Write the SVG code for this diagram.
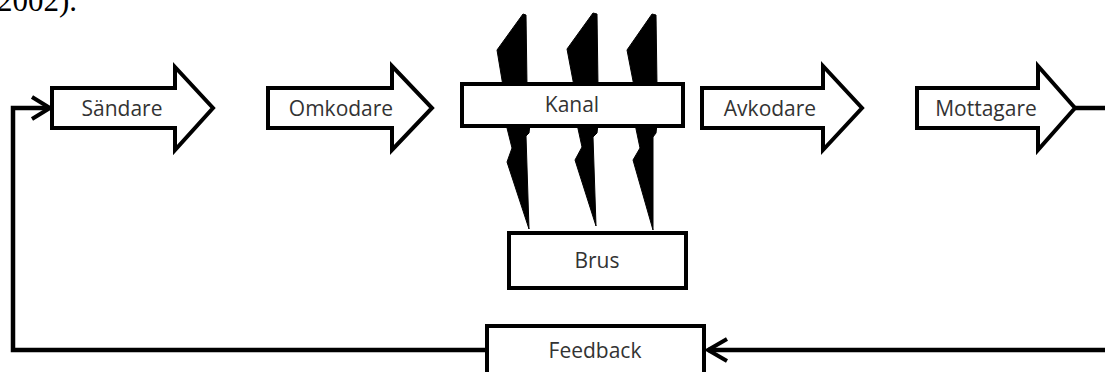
<svg xmlns="http://www.w3.org/2000/svg" width="1105" height="372" viewBox="0 0 1105 372">
<style>
.shape{fill:#fff;stroke:#000;stroke-width:4;stroke-linejoin:miter}
.lbl{font-family:"Open Sans","Noto Sans",sans-serif;font-size:21px;fill:#333;text-anchor:middle}
.line{fill:none;stroke:#000;stroke-width:4.5}
.chev{fill:none;stroke:#000;stroke-width:4;stroke-linejoin:miter}
.bolt{fill:#000;stroke:#000;stroke-width:1;stroke-linejoin:round}
</style>
<rect width="1105" height="372" fill="#fff"/>
<text x="-3" y="11" font-family="Liberation Serif,serif" font-size="31" fill="#000">2002).</text>

<g id="connectors">
  <polyline class="line" points="1075,108 1105,108"/>
  <polyline class="line" points="1105,350 708,350"/>
  <polyline class="chev" points="727,339 708,350 727,361"/>
  <polyline class="line" points="487,350 13,350 13,108 49,108"/>
  <polyline class="chev" points="32,97 50,108 32,119"/>
</g>

<g id="noise-bolts">
  <polygon class="bolt" points="523,14 526,15 527,86 503,86 497,50"/>
  <polygon class="bolt" points="593,13 597,14 598,86 574,86 567,49"/>
  <polygon class="bolt" points="652,14 656,15 657,86 634,86 627,50"/>
  <polygon class="bolt" points="506,124 530,124 529,133 526,136 529,229 507,162 512,148"/>
  <polygon class="bolt" points="577,124 598,124 597,133 593,137 596,226 575,160 582,147"/>
  <polygon class="bolt" points="635,124 657,124 656,133 653,137 653,230 633,160 640,148"/>
</g>

<g id="sandare">
  <polygon class="shape" points="52,88 175,88 175,67 213,108 175,150 175,128 52,128"/>
  <text class="lbl" x="122" y="116">Sändare</text>
</g>
<g id="omkodare">
  <polygon class="shape" points="268,88 392,88 392,66 432,108 392,150 392,128 268,128"/>
  <text class="lbl" x="341" y="116">Omkodare</text>
</g>
<g id="kanal">
  <rect class="shape" x="462" y="84" width="221" height="42"/>
  <text class="lbl" x="572" y="112">Kanal</text>
</g>
<g id="avkodare">
  <polygon class="shape" points="702,88 823,88 823,66 862,108 823,150 823,128 702,128"/>
  <text class="lbl" x="770" y="116">Avkodare</text>
</g>
<g id="mottagare">
  <polygon class="shape" points="917,88 1038,88 1038,66 1075,108 1038,150 1038,128 917,128"/>
  <text class="lbl" x="986" y="116">Mottagare</text>
</g>
<g id="brus">
  <rect class="shape" x="509" y="233" width="177" height="55"/>
  <text class="lbl" x="597" y="268">Brus</text>
</g>
<g id="feedback">
  <rect class="shape" x="487" y="326" width="217" height="52"/>
  <text class="lbl" x="595" y="358">Feedback</text>
</g>
</svg>
